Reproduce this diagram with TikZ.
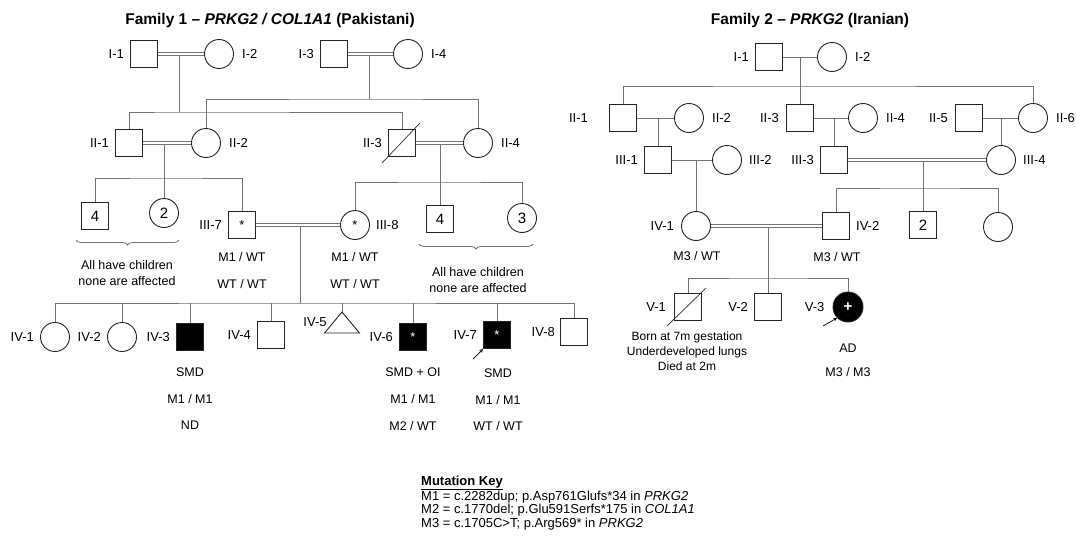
\documentclass[tikz,border=0pt]{standalone}
\usepackage{fontspec}
\setmainfont{Liberation Sans}
\usetikzlibrary{decorations.pathreplacing,positioning,calc}

\tikzset{
  male/.style={draw=black!85, line width=0.9pt, minimum size=27pt, inner sep=0pt, font=\fontsize{13}{13}\selectfont},
  female/.style={male, circle, minimum size=29pt},
  affected/.style={fill=black, text=white},
  tag/.style={font=\fontsize{13}{15}\selectfont, inner sep=0pt},
  geno/.style={font=\fontsize{12.5}{15}\selectfont, inner sep=0pt},
  count/.style={font=\fontsize{15}{15}\selectfont},
  link/.style={draw=black!55, line width=0.8pt},
  consang/.style={link, double=white, double distance=2.6pt},
  dead/.style={draw=black!80, line width=0.7pt},
  proband/.style={->, >=stealth, line width=0.7pt},
  note/.style={font=\fontsize{12.5}{16}\selectfont, align=center, inner sep=0pt},
  heading/.style={font=\fontsize{15.5}{18}\selectfont\bfseries, inner sep=0pt},
}

\begin{document}
\begin{tikzpicture}[x=1pt, y=-1pt]
    \useasboundingbox (0,0) rectangle (1076,538);
    \fill[white] (0,0) rectangle (1076,538);

    % Family 1
    \node[heading] (title1) at (270,20) {Family 1 – \textit{PRKG2 / COL1A1} (Pakistani)};

    % generation I
    \node[male] (I1) at (144,54) {};
    \node[female] (I2) at (219,54) {};
    \node[male] (I3) at (334,54) {};
    \node[female] (I4) at (408,54) {};
    \node[tag, left=6pt of I1] (tI1) {I-1};
    \node[tag, right=8pt of I2] (tI2) {I-2};
    \node[tag, left=6pt of I3] (tI3) {I-3};
    \node[tag, right=8pt of I4] (tI4) {I-4};
    \coordinate (u1) at (179,54);
    \coordinate (s1) at (179,112);
    \coordinate (u2) at (369,54);
    \coordinate (s2) at (369,99);
    \draw[link] (u1) -- (s1);
    \draw[link] (u2) -- (s2);
    \draw[consang] (I1) -- (I2);
    \draw[consang] (I3) -- (I4);

    % generation II
    \node[male] (II1) at (129,143) {};
    \node[female] (II2) at (206,143) {};
    \node[male] (II3) at (402,143) {};
    \node[female] (II4) at (478,143) {};
    \draw[dead] ($(II3.south west)+(-6,6)$) -- ($(II3.north east)+(4,-6)$);
    \node[tag, left=6pt of II1] (tII1) {II-1};
    \node[tag, right=8pt of II2] (tII2) {II-2};
    \node[tag, left=6pt of II3] (tII3) {II-3};
    \node[tag, right=8pt of II4] (tII4) {II-4};
    \draw[link] (II1) |- (s1) -| (II3);
    \draw[link] (II2) |- (s2) -| (II4);
    \coordinate (u3) at (164,143);
    \coordinate (s3) at (164,178);
    \coordinate (u4) at (440,143);
    \coordinate (s4) at (440,182);

    % generation III
    \node[male, count] (n4a) at (95,216) {4};
    \node[female, count] (n2) at (164,213) {2};
    \node[male] (III7) at (242,225) {*};
    \node[female] (III8) at (355,225) {*};
    \node[male, count] (n4b) at (440,219) {4};
    \node[female, count] (n3) at (522,218) {3};
    \node[tag, left=6pt of III7] (tIII7) {III-7};
    \node[tag, right=6pt of III8] (tIII8) {III-8};
    \draw[link] (u3) -- (n2);
    \draw[link] (u4) -- (n4b);
    \draw[consang] (II1) -- (II2);
    \draw[consang] (II3) -- (II4);
    \draw[link] (n4a) |- (s3) -| (III7);
    \draw[link] (III8) |- (s4) -| (n3);

    \coordinate (b1a) at (76,240);
    \coordinate (b1b) at (179,240);
    \coordinate (b2a) at (419,244);
    \coordinate (b2b) at (533,244);
    \draw[link, decorate, decoration={brace, mirror, amplitude=5pt}] (b1a) -- (b1b);
    \draw[link, decorate, decoration={brace, mirror, amplitude=5pt}] (b2a) -- (b2b);
    \node[note] (rest1) at (127,273) {All have children\\none are affected};
    \node[note] (rest2) at (478,280) {All have children\\none are affected};

    \node[geno] (gIII7a) at (242,257) {M1 / WT};
    \node[geno] (gIII7b) at (242,284) {WT / WT};
    \node[geno] (gIII8a) at (355,257) {M1 / WT};
    \node[geno] (gIII8b) at (355,284) {WT / WT};

    \coordinate (u5) at (300,225);
    \coordinate (s5) at (300,303);
    \draw[link] (u5) -- (s5);
    \draw[consang] (III7) -- (III8);

    % generation IV
    \node[female] (IV1) at (55,337) {};
    \node[female] (IV2) at (122,337) {};
    \node[male, affected] (IV3) at (190,337) {};
    \node[male] (IV4) at (271,335) {};
    \coordinate (IV5) at (342,312);
    \draw[draw=black!85, line width=0.9pt] (IV5) -- ++(-17.5,21) -- ++(35,0) -- cycle;
    \node[male, affected] (IV6) at (413,337) {*};
    \node[male, affected] (IV7) at (497,335) {*};
    \node[male] (IV8) at (574,332) {};
    \node[tag, left=6pt of IV1] (tIV1) {IV-1};
    \node[tag, left=6pt of IV2] (tIV2) {IV-2};
    \node[tag, left=6pt of IV3] (tIV3) {IV-3};
    \node[tag, left=6pt of IV4] (tIV4) {IV-4};
    \node[tag] (tIV5) at (315,322) {IV-5};
    \node[tag, left=6pt of IV6] (tIV6) {IV-6};
    \node[tag, left=6pt of IV7] (tIV7) {IV-7};
    \node[tag, left=5pt of IV8] (tIV8) {IV-8};
    \draw[link] (IV1) |- (s5) -| (IV8);
    \foreach \k in {IV2,IV3,IV4,IV5,IV6,IV7}
        \draw[link] (\k) -- (\k |- s5);
    \coordinate (pb1) at (473,359);
    \draw[proband] (pb1) -- (IV7.south west);

    \node[geno] (dIV3) at (190,372) {SMD};
    \node[geno] (gIV3a) at (190,399) {M1 / M1};
    \node[geno] (gIV3b) at (190,425) {ND};
    \node[geno] (dIV6) at (413,372) {SMD + OI};
    \node[geno] (gIV6a) at (413,399) {M1 / M1};
    \node[geno] (gIV6b) at (413,426) {M2 / WT};
    \node[geno] (dIV7) at (498,373) {SMD};
    \node[geno] (gIV7a) at (498,400) {M1 / M1};
    \node[geno] (gIV7b) at (498,426) {WT / WT};

    % Family 2
    \node[heading] (title2) at (810,20) {Family 2 – \textit{PRKG2} (Iranian)};

    % generation I
    \node[male] (bI1) at (769,57) {};
    \node[female] (bI2) at (832,57) {};
    \node[tag, left=6pt of bI1] (tbI1) {I-1};
    \node[tag, right=8pt of bI2] (tbI2) {I-2};
    \draw[link] (bI1) -- (bI2);
    \coordinate (bu1) at (800,57);
    \coordinate (bs1) at (800,86);

    % generation II
    \node[male] (bII1) at (623,118) {};
    \node[female] (bII2) at (689,118) {};
    \node[male] (bII3) at (800,118) {};
    \node[female] (bII4) at (863,118) {};
    \node[male] (bII5) at (969,118) {};
    \node[female] (bII6) at (1033,118) {};
    \node[tag, left=21pt of bII1] (tbII1) {II-1};
    \node[tag, right=8pt of bII2] (tbII2) {II-2};
    \node[tag, left=7pt of bII3] (tbII3) {II-3};
    \node[tag, right=8pt of bII4] (tbII4) {II-4};
    \node[tag, left=7pt of bII5] (tbII5) {II-5};
    \node[tag, right=8pt of bII6] (tbII6) {II-6};
    \draw[link] (bu1) -- (bII3);
    \draw[link] (bII1) |- (bs1) -| (bII6);
    \draw[link] (bII1) -- (bII2);
    \draw[link] (bII3) -- (bII4);
    \draw[link] (bII5) -- (bII6);
    \coordinate (bu2) at (658,118);
    \coordinate (bu3) at (834,118);
    \coordinate (bu4) at (1001,118);

    % generation III
    \node[male] (bIII1) at (658,160) {};
    \node[female] (bIII2) at (727,160) {};
    \node[male] (bIII3) at (834,160) {};
    \node[female] (bIII4) at (1001,160) {};
    \node[tag, left=6pt of bIII1] (tbIII1) {III-1};
    \node[tag, right=7pt of bIII2] (tbIII2) {III-2};
    \node[tag, left=6pt of bIII3] (tbIII3) {III-3};
    \node[tag, right=7pt of bIII4] (tbIII4) {III-4};
    \draw[link] (bu2) -- (bIII1);
    \draw[link] (bu3) -- (bIII3);
    \draw[link] (bu4) -- (bIII4);
    \draw[link] (bIII1) -- (bIII2);
    \coordinate (bu5) at (696,160);
    \coordinate (bu6) at (923,160);
    \coordinate (bs2) at (923,188);

    % generation IV
    \node[female] (bIV1) at (696,226) {};
    \node[male] (bIV2) at (836,226) {};
    \node[male, count] (b2) at (923,225) {2};
    \node[female] (bIVc) at (998,227) {};
    \node[tag, left=7pt of bIV1] (tbIV1) {IV-1};
    \node[tag, right=6pt of bIV2] (tbIV2) {IV-2};
    \draw[link] (bu5) -- (bIV1);
    \draw[link] (bu6) -- (b2);
    \draw[consang] (bIII3) -- (bIII4);
    \draw[link] (bIV2) |- (bs2) -| (bIVc);
    \node[geno] (gbIV1) at (697,256) {M3 / WT};
    \node[geno] (gbIV2) at (837,257) {M3 / WT};
    \coordinate (bu7) at (768,226);
    \coordinate (bs3) at (768,278);

    % generation V
    \node[male] (bV1) at (688,307) {};
    \node[male] (bV2) at (768,307) {};
    \node[female, affected, minimum size=30pt, font=\fontsize{15}{15}\selectfont\bfseries] (bV3) at (848,307) {+};
    \draw[dead] ($(bV1.south west)+(-7,5)$) -- ($(bV1.north east)+(4,-5)$);
    \node[tag, left=8pt of bV1] (tbV1) {V-1};
    \node[tag, left=6pt of bV2] (tbV2) {V-2};
    \node[tag, left=8pt of bV3] (tbV3) {V-3};
    \draw[link] (bu7) -- (bV2);
    \draw[consang] (bIV1) -- (bIV2);
    \draw[link] (bV1) |- (bs3) -| (bV3);
    \coordinate (pb2) at (823,326);
    \draw[proband] (pb2) -- (bV3.south west);
    \node[note, font=\fontsize{12}{15}\selectfont] (hbV1) at (687,351) {Born at 7m gestation\\Underdeveloped lungs\\Died at 2m};
    \node[geno] (dbV3) at (848,348) {AD};
    \node[geno] (gbV3) at (848,372) {M3 / M3};

    % key
    \node[anchor=west, align=left, inner sep=0pt, font=\fontsize{13}{13.5}\selectfont] (key) at (421,503)
        {\underline{\textbf{Mutation Key}}\\
         M1 = c.2282dup; p.Asp761Glufs*34 in \textit{PRKG2}\\
         M2 = c.1770del; p.Glu591Serfs*175 in \textit{COL1A1}\\
         M3 = c.1705C>T; p.Arg569* in \textit{PRKG2}};
\end{tikzpicture}
\end{document}
